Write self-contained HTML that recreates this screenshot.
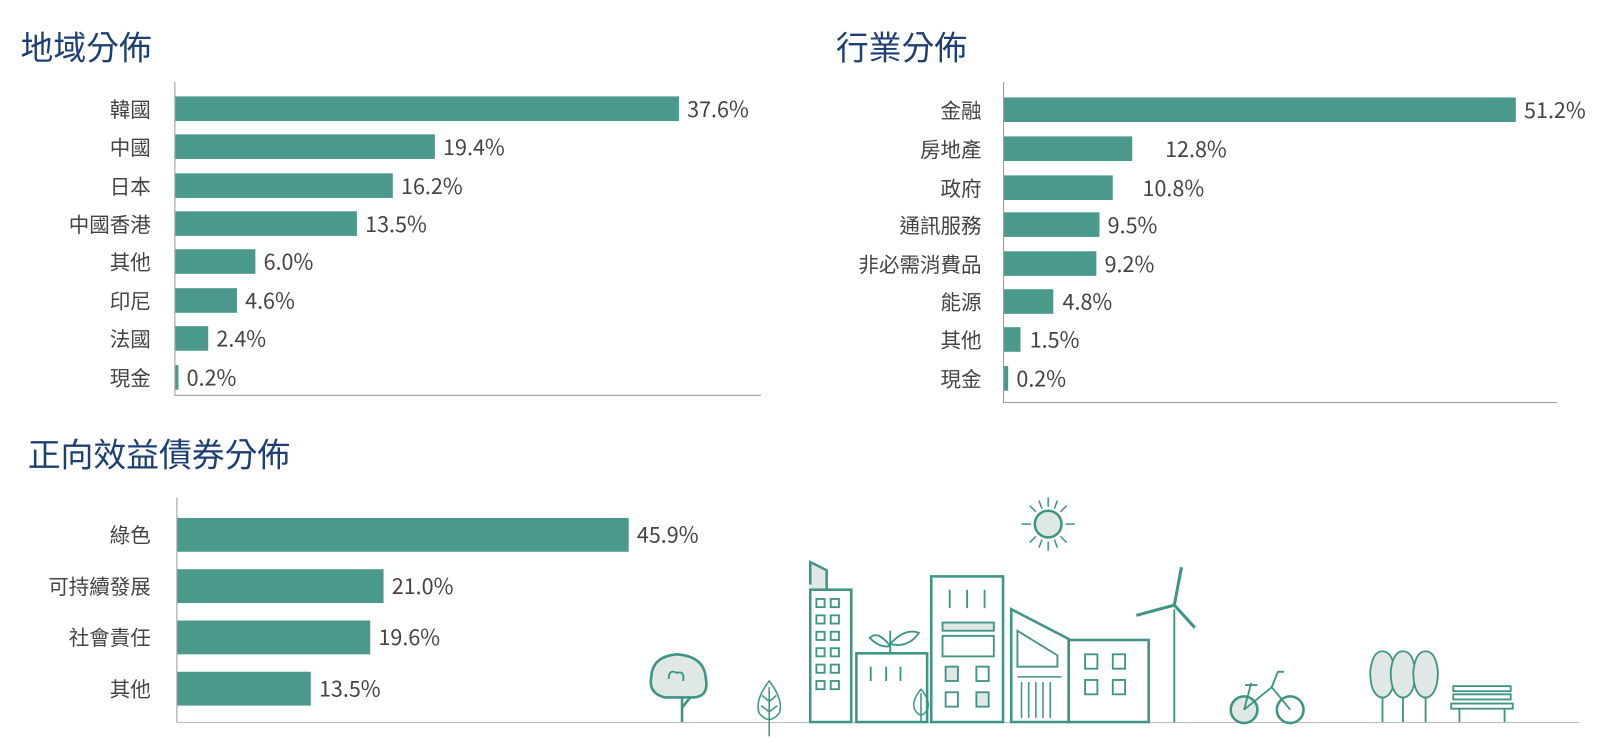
<!DOCTYPE html>
<html><head><meta charset="utf-8"><style>
body{margin:0;width:1600px;height:743px;background:#fff;position:relative;overflow:hidden;font-family:"Liberation Sans","Noto Sans CJK TC",sans-serif;}
#w{position:absolute;left:0;top:0;width:1560px;height:725px;transform:scale(1.0256);transform-origin:0 0;}
.t{position:absolute;color:#1d3f73;font-size:32px;line-height:1;font-family:"Noto Sans CJK TC",sans-serif;}
.c{position:absolute;font-size:20px;color:#444;text-align:right;line-height:24px;font-family:"Noto Sans CJK TC",sans-serif;}
.v{position:absolute;font-size:21px;color:#444;line-height:24px;font-family:"Noto Sans CJK TC",sans-serif;}
.b{position:absolute;background:#4a998c;}
.ax{position:absolute;background:#999;}
</style></head><body><div id="w">
<div class="t" style="left:20px;top:29px">地域分佈</div>
<div class="t" style="left:815px;top:29px">行業分佈</div>
<div class="t" style="left:27px;top:426px">正向效益債券分佈</div>

<div class="ax" style="left:170px;top:80px;width:1px;height:305px"></div>
<div class="ax" style="left:170px;top:385px;width:572px;height:1px"></div>
<div class="ax" style="left:978px;top:80px;width:1px;height:312px"></div>
<div class="ax" style="left:978px;top:392px;width:540px;height:1px"></div>
<div class="ax" style="left:172px;top:485px;width:1px;height:219px"></div>
<div class="ax" style="left:172px;top:704px;width:1368px;height:1px;background:#bbb"></div>

<div class="c" style="right:1413px;top:94px">韓國</div><div class="b" style="left:171px;top:94px;width:491px;height:24px"></div><div class="v" style="left:670px;top:94px">37.6%</div>
<div class="c" style="right:1413px;top:131px">中國</div><div class="b" style="left:171px;top:131px;width:253px;height:24px"></div><div class="v" style="left:432px;top:131px">19.4%</div>
<div class="c" style="right:1413px;top:169px">日本</div><div class="b" style="left:171px;top:169px;width:212px;height:24px"></div><div class="v" style="left:391px;top:169px">16.2%</div>
<div class="c" style="right:1413px;top:206px">中國香港</div><div class="b" style="left:171px;top:206px;width:177px;height:24px"></div><div class="v" style="left:356px;top:206px">13.5%</div>
<div class="c" style="right:1413px;top:243px">其他</div><div class="b" style="left:171px;top:243px;width:78px;height:24px"></div><div class="v" style="left:257px;top:243px">6.0%</div>
<div class="c" style="right:1413px;top:281px">印尼</div><div class="b" style="left:171px;top:281px;width:60px;height:24px"></div><div class="v" style="left:239px;top:281px">4.6%</div>
<div class="c" style="right:1413px;top:318px">法國</div><div class="b" style="left:171px;top:318px;width:32px;height:24px"></div><div class="v" style="left:211px;top:318px">2.4%</div>
<div class="c" style="right:1413px;top:356px">現金</div><div class="b" style="left:171px;top:356px;width:3px;height:24px"></div><div class="v" style="left:182px;top:356px">0.2%</div>

<div class="c" style="right:603px;top:95px">金融</div><div class="b" style="left:979px;top:95px;width:499px;height:24px"></div><div class="v" style="left:1486px;top:95px">51.2%</div>
<div class="c" style="right:603px;top:133px">房地產</div><div class="b" style="left:979px;top:133px;width:125px;height:24px"></div><div class="v" style="left:1136px;top:133px">12.8%</div>
<div class="c" style="right:603px;top:171px">政府</div><div class="b" style="left:979px;top:171px;width:106px;height:24px"></div><div class="v" style="left:1114px;top:171px">10.8%</div>
<div class="c" style="right:603px;top:207px">通訊服務</div><div class="b" style="left:979px;top:207px;width:93px;height:24px"></div><div class="v" style="left:1080px;top:207px">9.5%</div>
<div class="c" style="right:603px;top:245px">非必需消費品</div><div class="b" style="left:979px;top:245px;width:90px;height:24px"></div><div class="v" style="left:1077px;top:245px">9.2%</div>
<div class="c" style="right:603px;top:282px">能源</div><div class="b" style="left:979px;top:282px;width:48px;height:24px"></div><div class="v" style="left:1036px;top:282px">4.8%</div>
<div class="c" style="right:603px;top:319px">其他</div><div class="b" style="left:979px;top:319px;width:16px;height:24px"></div><div class="v" style="left:1004px;top:319px">1.5%</div>
<div class="c" style="right:603px;top:357px">現金</div><div class="b" style="left:979px;top:357px;width:4px;height:24px"></div><div class="v" style="left:991px;top:357px">0.2%</div>

<div class="c" style="right:1413px;top:509px">綠色</div><div class="b" style="left:173px;top:505px;width:440px;height:33px"></div><div class="v" style="left:621px;top:509px">45.9%</div>
<div class="c" style="right:1413px;top:559px">可持續發展</div><div class="b" style="left:173px;top:555px;width:201px;height:33px"></div><div class="v" style="left:382px;top:559px">21.0%</div>
<div class="c" style="right:1413px;top:609px">社會責任</div><div class="b" style="left:173px;top:605px;width:188px;height:33px"></div><div class="v" style="left:369px;top:609px">19.6%</div>
<div class="c" style="right:1413px;top:659px">其他</div><div class="b" style="left:173px;top:655px;width:130px;height:33px"></div><div class="v" style="left:311px;top:659px">13.5%</div>

<svg style="position:absolute;left:0;top:0" width="1560" height="725" fill="none" stroke="#3f9585" stroke-width="2.5">
<circle cx="1022" cy="511" r="13" fill="#dfe8e5"/>
<g stroke-width="1.5"><line x1="1022" y1="485" x2="1022" y2="494"/><line x1="1022" y1="528" x2="1022" y2="537"/><line x1="996" y1="511" x2="1005" y2="511"/><line x1="1039" y1="511" x2="1048" y2="511"/><line x1="1004" y1="493" x2="1010" y2="499"/><line x1="1034" y1="523" x2="1040" y2="529"/><line x1="1040" y1="493" x2="1034" y2="499"/><line x1="1004" y1="529" x2="1010" y2="523"/><line x1="1013" y1="488" x2="1016" y2="496"/><line x1="1031" y1="488" x2="1028" y2="496"/><line x1="1013" y1="534" x2="1016" y2="526"/><line x1="1031" y1="534" x2="1028" y2="526"/></g>
<path d="M790 570 V548 L806 556 V575 H790" fill="#dfe8e5"/>
<rect x="790" y="575" width="40" height="129"/>
<g stroke-width="1.8"><rect x="796" y="584" width="8" height="8"/><rect x="810" y="584" width="8" height="8"/><rect x="796" y="600" width="8" height="8"/><rect x="810" y="600" width="8" height="8"/><rect x="796" y="616" width="8" height="8"/><rect x="810" y="616" width="8" height="8"/><rect x="796" y="632" width="8" height="8"/><rect x="810" y="632" width="8" height="8"/><rect x="796" y="648" width="8" height="8"/><rect x="810" y="648" width="8" height="8"/><rect x="796" y="664" width="8" height="8"/><rect x="810" y="664" width="8" height="8"/></g>
<rect x="835" y="637" width="69" height="67"/>
<path d="M868 637 V615 M868 628 Q882 612 896 617 Q886 632 868 628 M868 630 Q856 614 848 622 Q858 632 868 630" stroke-width="1.8"/>
<g stroke-width="1.8"><line x1="849" y1="650" x2="849" y2="664"/><line x1="864" y1="650" x2="864" y2="664"/><line x1="878" y1="650" x2="878" y2="664"/></g>
<rect x="908" y="562" width="70" height="142"/>
<g stroke-width="1.8"><line x1="926" y1="575" x2="926" y2="593"/><line x1="943" y1="575" x2="943" y2="593"/><line x1="960" y1="575" x2="960" y2="593"/>
<rect x="919" y="607" width="50" height="8" fill="#dfe8e5"/><rect x="919" y="620" width="50" height="20"/>
<rect x="922" y="650" width="12" height="14" fill="#dfe8e5"/><rect x="952" y="650" width="12" height="14"/><rect x="922" y="675" width="12" height="14"/><rect x="952" y="675" width="12" height="14" fill="#dfe8e5"/></g>
<path d="M986 704 V594 L1042 623 V704 Z"/>
<path d="M992 615 V650 H1031 V639 Z" stroke-width="1.8" fill="#fff"/>
<g stroke-width="1.5"><line x1="992" y1="660" x2="1035" y2="660"/><line x1="996" y1="665" x2="996" y2="700"/><line x1="1003" y1="665" x2="1003" y2="700"/><line x1="1010" y1="665" x2="1010" y2="700"/><line x1="1017" y1="665" x2="1017" y2="700"/><line x1="1024" y1="665" x2="1024" y2="700"/></g>
<rect x="1042" y="624" width="78" height="80"/>
<g stroke-width="1.8"><rect x="1058" y="638" width="12" height="14"/><rect x="1085" y="638" width="12" height="14"/><rect x="1058" y="663" width="12" height="14"/><rect x="1085" y="663" width="12" height="14"/></g>
<line x1="1145" y1="594" x2="1145" y2="704" stroke-width="1.8"/>
<path d="M1145 590 L1152 553 M1145 590 L1108 600 M1145 590 L1165 612" stroke-width="3"/>
<path d="M665 704 V680 M665 690 L673 680" stroke-width="2.5"/>
<path d="M648 680 Q632 676 635 660 Q636 640 660 638 Q686 640 688 660 Q692 680 675 680 Z" fill="#dfe8e5"/>
<path d="M652 662 Q652 652 660 656 Q668 654 666 664" stroke-width="1.8"/>
<path d="M750 664 Q736 682 740 695 Q750 708 760 695 Q764 682 750 664 Z M750 670 V718 M750 684 L743 678 M750 684 L757 678 M750 694 L742 688 M750 694 L758 688" stroke-width="1.5"/>
<path d="M898 672 Q888 684 892 692 Q898 702 904 692 Q908 684 898 672 Z M898 676 V704" stroke-width="1.5"/>
<circle cx="1213" cy="692" r="13" fill="#dfe8e5"/><circle cx="1258" cy="692" r="13"/>
<path d="M1213 692 L1240 670 L1258 692 M1220 666 L1213 692 M1214 668 H1226 M1240 670 L1246 655 H1252" stroke-width="1.8"/>
<g fill="#dfe8e5" stroke-width="1.8"><path d="M1346 680 Q1336 676 1336 655 Q1338 635 1348 635 Q1358 635 1360 655 Q1360 676 1350 680 Z"/><path d="M1366 680 Q1356 676 1356 655 Q1358 635 1368 635 Q1378 635 1380 655 Q1380 676 1370 680 Z"/><path d="M1388 680 Q1378 676 1378 655 Q1380 635 1390 635 Q1400 635 1402 655 Q1402 676 1392 680 Z"/></g>
<g stroke-width="1.8"><line x1="1348" y1="680" x2="1348" y2="704"/><line x1="1368" y1="680" x2="1368" y2="704"/><line x1="1390" y1="680" x2="1390" y2="704"/></g>
<g stroke-width="1.8"><rect x="1417" y="669" width="56" height="5"/><rect x="1417" y="677" width="56" height="5"/><rect x="1415" y="686" width="60" height="5"/><line x1="1423" y1="691" x2="1423" y2="704"/><line x1="1467" y1="691" x2="1467" y2="704"/></g>
</svg>
</div></body></html>
